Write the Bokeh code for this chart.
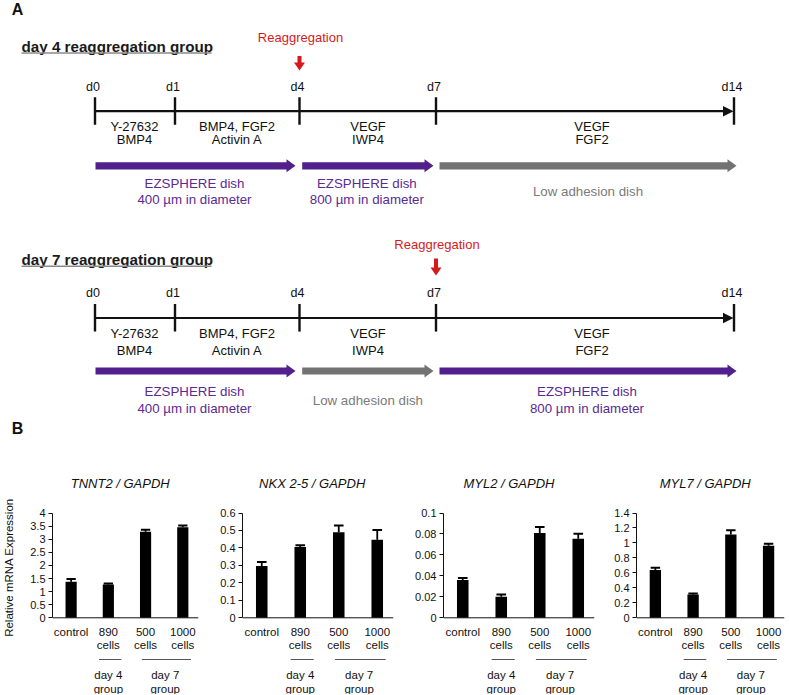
from bokeh.plotting import figure
from bokeh.layouts import column, row
from bokeh.models import Range1d, FixedTicker, NumeralTickFormatter
from bokeh.core.properties import value
from bokeh.embed import file_html
from bokeh.resources import INLINE

FONT = "Liberation Sans"
PURPLE = "#52208c"
GRAY = "#727272"
RED = "#d7191c"
INK = "#111111"

# ---------------- Panel A data ----------------
day_labels = ["d0", "d1", "d4", "d7", "d14"]
stage_line1 = ["Y-27632", "BMP4, FGF2", "VEGF", "VEGF"]
stage_line2 = ["BMP4", "Activin A", "IWP4", "FGF2"]
group_titles = ["day 4 reaggregation group", "day 7 reaggregation group"]
reagg_text = "Reaggregation"
reagg_day_index = [2, 3]
dish_line1_g1 = ["EZSPHERE dish", "EZSPHERE dish", "Low adhesion dish"]
dish_line2_g1 = ["400 µm in diameter", "800 µm in diameter", ""]
dish_kind_g1 = ["ez", "ez", "low"]
dish_line1_g2 = ["EZSPHERE dish", "Low adhesion dish", "EZSPHERE dish"]
dish_line2_g2 = ["400 µm in diameter", "", "800 µm in diameter"]
dish_kind_g2 = ["ez", "low", "ez"]

# ---------------- Panel B data ----------------
gene_titles = ["TNNT2 / GAPDH", "NKX 2-5 / GAPDH", "MYL2 / GAPDH", "MYL7 / GAPDH"]
cat_line1 = ["control", "890", "500", "1000"]
cat_line2 = ["", "cells", "cells", "cells"]
group_names = ["day 4", "day 7"]
tnnt2 = [1.38, 1.27, 3.28, 3.46]
tnnt2_err = [0.10, 0.04, 0.08, 0.06]
nkx25 = [0.297, 0.405, 0.490, 0.447]
nkx25_err = [0.022, 0.011, 0.038, 0.055]
myl2 = [0.036, 0.020, 0.081, 0.0755]
myl2_err = [0.002, 0.0023, 0.0056, 0.0047]
myl7 = [0.640, 0.310, 1.113, 0.963]
myl7_err = [0.027, 0.013, 0.057, 0.027]
y_max = [4, 0.6, 0.1, 1.4]
y_step = [0.5, 0.1, 0.02, 0.2]

# ======================= Panel A =======================
pa = figure(width=789, height=440, x_range=Range1d(0, 789), y_range=Range1d(440, 0),
            output_backend="svg", toolbar_location=None, title=None,
            x_axis_location=None, y_axis_location=None,
            min_border=0, min_border_left=0, min_border_right=0,
            min_border_top=0, min_border_bottom=0)
pa.grid.visible = False
pa.outline_line_color = None

# layout positions of the schematic (pixels of the panel)
day_x = [94.5, 174.5, 299, 435.5, 733.5]
stage_x = [134, 236.5, 367.5, 591.5]

def text(p, x, y, t, size, color=INK, align="center", style="normal", baseline="middle"):
    p.text(x=x, y=y, text=t, text_font=value(FONT), text_font_size=size,
           text_color=color, text_align=align, text_baseline=baseline,
           text_font_style=style)

def right_arrow(p, x0, x1, y, color, half=3.6, head_half=6.5, head_len=9):
    xs = [x0, x1 - head_len, x1 - head_len, x1, x1 - head_len, x1 - head_len, x0]
    ys = [y - half, y - half, y - head_half, y, y + head_half, y + half, y + half]
    p.patch(xs, ys, fill_color=color, line_color=None)

def down_arrow(p, xc, ytop, ytip, color):
    ymid = ytip - 8
    xs = [xc - 2, xc + 2, xc + 2, xc + 5.5, xc, xc - 5.5, xc - 2]
    ys = [ytop, ytop, ymid, ymid, ytip, ymid, ymid]
    p.patch(xs, ys, fill_color=color, line_color=None)

text(pa, [17], [8.5], ["A"], "16px", style="bold")
text(pa, [17], [427.5], ["B"], "16px", style="bold")

groups_cfg = [
    dict(title_y=45.5, ul_y=52.5, reagg_y=36.5, arr_top=55.5, arr_tip=70,
         day_y=86.7, line_y=110.7, st1=126.3, st2=138.7, dish_y=165.3,
         d1=182.7, d2=199.2, low_y=191.0,
         lines1=dish_line1_g1, lines2=dish_line2_g1, kinds=dish_kind_g1),
    dict(title_y=258.8, ul_y=265.7, reagg_y=244.3, arr_top=258, arr_tip=275,
         day_y=292.3, line_y=317.5, st1=333.3, st2=349.5, dish_y=370.5,
         d1=391.0, d2=407.5, low_y=400.0,
         lines1=dish_line1_g2, lines2=dish_line2_g2, kinds=dish_kind_g2),
]
dish_spans = [(0, 2), (2, 3), (3, 4)]
dish_pad = [(0.5, -4), (2.7, -2.5), (3.5, 2.5)]

for gi, g in enumerate(groups_cfg):
    text(pa, [21], [g["title_y"]], [group_titles[gi]], "15.2px", color="#1a1a1a",
         align="left", style="bold")
    pa.segment(x0=[21], y0=[g["ul_y"]], x1=[211], y1=[g["ul_y"]], line_color="#8a8a8a",
               line_width=1.6)
    rx = day_x[reagg_day_index[gi]]
    text(pa, [rx + 1], [g["reagg_y"]], [reagg_text], "13px", color=RED)
    down_arrow(pa, rx, g["arr_top"], g["arr_tip"], RED)
    # days
    text(pa, [x - 2 for x in day_x], [g["day_y"]] * len(day_x), day_labels, "12.5px")
    ly = g["line_y"]
    pa.segment(x0=[day_x[0]], y0=[ly], x1=[day_x[-1] - 9], y1=[ly], line_color=INK,
               line_width=2.2)
    pa.patch([day_x[-1] - 11, day_x[-1] - 0.5, day_x[-1] - 11],
             [ly - 5.2, ly, ly + 5.2], fill_color=INK, line_color=None)
    pa.segment(x0=day_x, y0=[ly - 14] * 5, x1=day_x, y1=[ly + 13.6] * 5,
               line_color=INK, line_width=2.4)
    text(pa, stage_x, [g["st1"]] * 4, stage_line1, "13px")
    text(pa, stage_x, [g["st2"]] * 4, stage_line2, "13px")
    # dishes
    for k, (a, b) in enumerate(dish_spans):
        x0 = day_x[a] + dish_pad[k][0]
        x1 = day_x[b] + dish_pad[k][1]
        col = PURPLE if g["kinds"][k] == "ez" else GRAY
        right_arrow(pa, x0, x1, g["dish_y"], col)
        xm = (x0 + x1) / 2
        if g["lines2"][k]:
            tcol = "#5a2a94"
            text(pa, [xm - 1], [g["d1"]], [g["lines1"][k]], "13.3px", color=tcol)
            text(pa, [xm - 1], [g["d2"]], [g["lines2"][k]], "13.3px", color=tcol)
        else:
            text(pa, [xm], [g["low_y"]], [g["lines1"][k]], "13.3px", color="#7a7a7a")

# ======================= Panel B =======================
series = [tnnt2, nkx25, myl2, myl7]
errors = [tnnt2_err, nkx25_err, myl2_err, myl7_err]
fig_w = [216, 195, 200, 178]
fig_left = [47, 26, 32, 22]
title_x = [1.32, 1.31, 1.2, 1.32]
PX_PER_CAT = 38.5
ZERO_Y, TOP_Y, TOP_FIG, BOT_FIG = 617.3, 512.5, 440, 694

def ydat(ref_y, ppu):
    return (ZERO_Y - ref_y) / ppu

bar_figs = []
for i in range(4):
    ppu = (ZERO_Y - TOP_Y) / y_max[i]
    frame_w = 151
    xend = -0.5 + frame_w / PX_PER_CAT
    p = figure(width=fig_w[i], height=BOT_FIG - TOP_FIG,
               x_range=Range1d(-0.5, xend),
               y_range=Range1d(ydat(BOT_FIG, ppu), ydat(TOP_FIG, ppu)),
               output_backend="svg", toolbar_location=None, title=None,
               x_axis_location=None,
               min_border_left=fig_left[i], min_border_right=fig_w[i] - fig_left[i] - frame_w,
               min_border_top=0, min_border_bottom=0)
    p.grid.visible = False
    p.outline_line_color = None
    ticks = [round(k * y_step[i], 3) for k in range(int(round(y_max[i] / y_step[i])) + 1)]
    ax = p.yaxis[0]
    ax.ticker = FixedTicker(ticks=ticks)
    ax.formatter = NumeralTickFormatter(format="0.[00]")
    ax.bounds = (0, y_max[i])
    ax.major_tick_out = 4
    ax.major_tick_in = 0
    ax.minor_tick_line_color = None
    ax.major_label_standoff = 3
    ax.major_label_text_font = FONT
    ax.major_label_text_font_size = "11px"
    ax.major_label_text_color = INK
    ax.axis_line_color = INK
    ax.major_tick_line_color = INK
    if i == 0:
        ax.axis_label = "Relative mRNA Expression"
        ax.axis_label_text_font = FONT
        ax.axis_label_text_font_size = "11.5px"
        ax.axis_label_text_font_style = "normal"
        ax.axis_label_text_color = INK
        ax.axis_label_standoff = 12

    xs = list(range(4))
    vals = series[i]
    errs = errors[i]
    tops = [v + e for v, e in zip(vals, errs)]
    p.vbar(x=xs, top=vals, bottom=0, width=0.3, fill_color="black", line_color=None)
    p.segment(x0=xs, y0=vals, x1=xs, y1=tops, line_color="black", line_width=1.8)
    p.segment(x0=[x - 0.125 for x in xs], y0=tops, x1=[x + 0.125 for x in xs], y1=tops,
              line_color="black", line_width=2)
    # x axis line
    p.segment(x0=[-0.5], y0=[0], x1=[xend], y1=[0], line_color=INK, line_width=1)
    # category labels
    text(p, xs, [ydat(631.7, ppu)] * 4, cat_line1, "11.5px")
    text(p, xs, [ydat(644.5, ppu)] * 4, cat_line2, "11.5px")
    # group lines + labels
    gy = ydat(659, ppu)
    p.segment(x0=[0.75, 1.9], y0=[gy, gy], x1=[1.35, 3.22], y1=[gy, gy],
              line_color="#555555", line_width=1)
    text(p, [1.0, 2.53], [ydat(674, ppu)] * 2, group_names, "11.5px")
    text(p, [1.0, 2.53], [ydat(688, ppu)] * 2, ["group", "group"], "11.5px")
    # title
    text(p, [title_x[i]], [ydat(483, ppu)], [gene_titles[i]], "13px", style="italic")
    bar_figs.append(p)

layout = column(pa, row(*bar_figs, spacing=0), spacing=0)
open("out.html", "w").write(file_html(layout, INLINE))
